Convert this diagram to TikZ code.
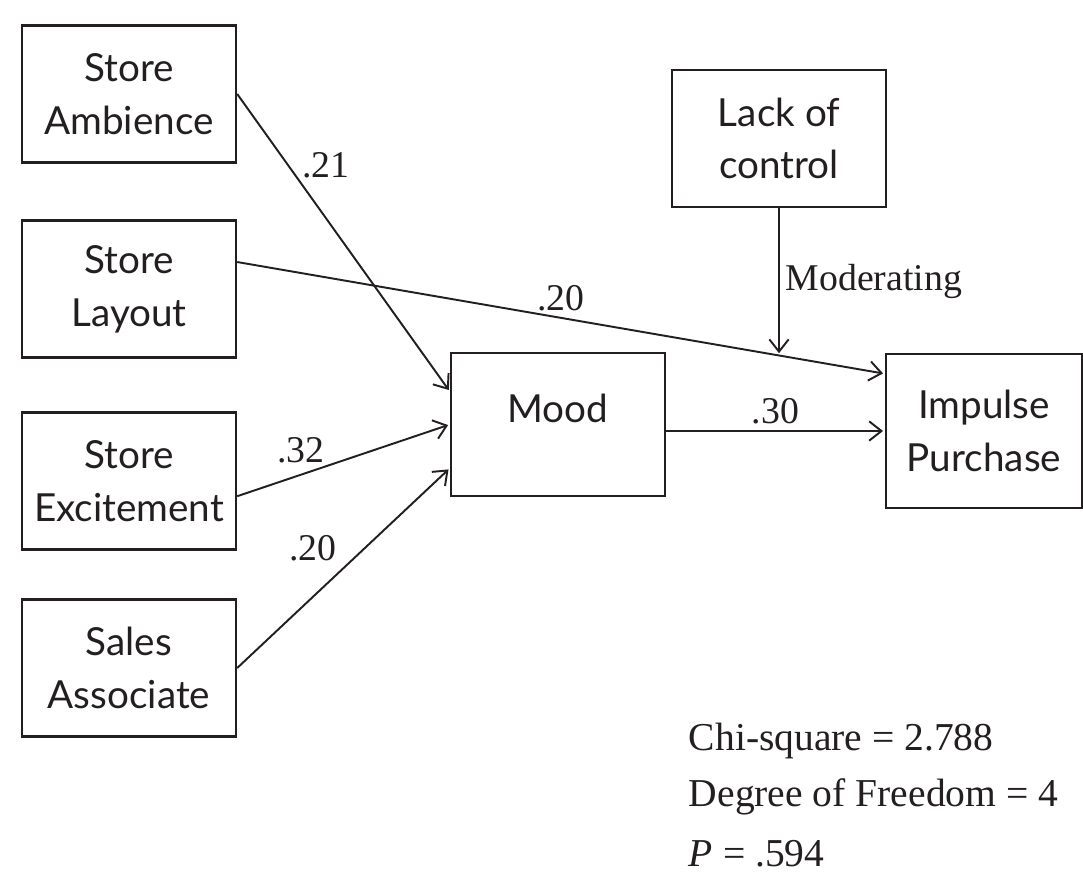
\documentclass[tikz,border=0pt]{standalone}
\usepackage{fontspec}
\setmainfont{Liberation Serif}
\setsansfont{Lato}
\usepackage{tikz}
\usetikzlibrary{arrows.meta,positioning}
\definecolor{ink}{HTML}{231F20}

\begin{document}
\begin{tikzpicture}[->,>={Straight Barb[length=7pt,width=11pt]},shorten >=1pt,
                    x=0.02cm,y=-0.02cm,line width=1.1pt,color=ink]
    \tikzset{var/.style={draw,line width=1.4pt,minimum width=4.28cm,minimum height=2.74cm,
                         align=center,font=\sffamily\fontsize{22}{30}\selectfont}}
    \tikzset{coef/.style={font=\fontsize{21.5}{24}\selectfont}}
    \useasboundingbox (0,0) rectangle (1083,880);
    \node[var] (amb) at (129,94) {Store\\Ambience};
    \node[var] (lay) at (129,289) {Store\\Layout};
    \node[var] (exc) at (129,481) {Store\\Excitement};
    \node[var] (sal) at (129,668) {Sales\\Associate};
    \node[var,minimum height=2.86cm,text depth=0.66cm] (mood) at (558,424.5) {Mood};
    \node[var] (lack) at (779,138.5) {Lack of\\control};
    \node[var,minimum width=3.92cm,minimum height=3.08cm] (imp) at (984,431) {Impulse\\Purchase};
    \draw (lay.14) -- node[midway,above,coef]{.20} coordinate[pos=0.832] (mod) (imp.150);
    \path
    (amb.east) edge node[pos=0.24,right=4pt,coef]{.21} (mood.163)
    (exc.352) edge node[pos=0.3,above=3pt,coef]{.32} (mood.west)
    (sal.east) edge node[pos=0.5,above left,coef]{.20} (mood.202)
    (imp.west -| mood.east) edge node[midway,above,coef]{.30} (imp.west)
    (lack.south) edge node[midway,right,coef]{Moderating} (lack.south |- mod);
    \node[anchor=west,inner sep=0pt,font=\fontsize{22.5}{26}\selectfont] (chi) at (688,741) {Chi-square = 2.788};
    \node[anchor=west,inner sep=0pt,font=\fontsize{22.5}{26}\selectfont] (dof) at (688,797) {Degree of Freedom = 4};
    \node[anchor=west,inner sep=0pt,font=\fontsize{22.5}{26}\selectfont] (pval) at (688,854) {\textit{P} = .594};
\end{tikzpicture}
\end{document}
